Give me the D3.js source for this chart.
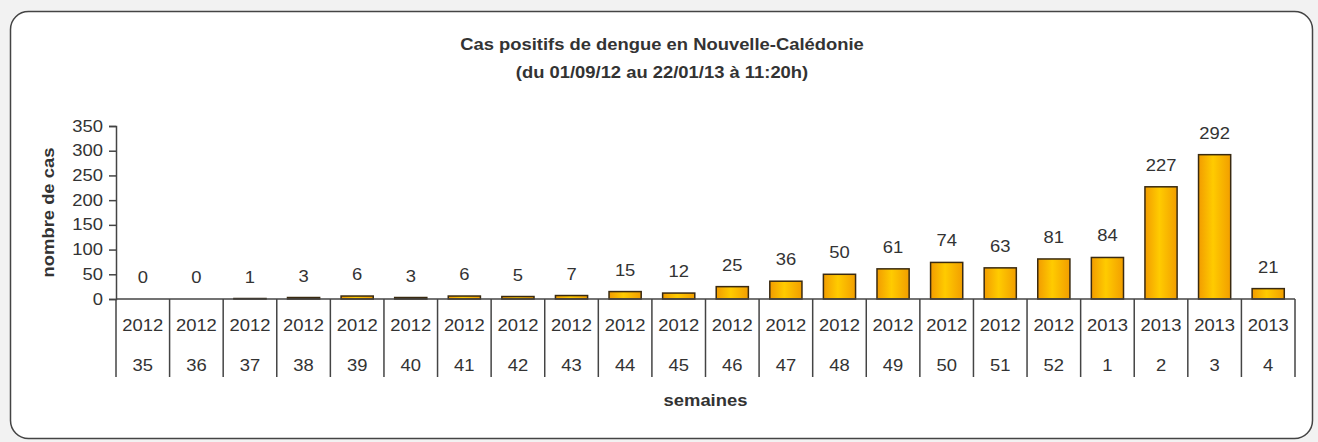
<!DOCTYPE html>
<html>
<head>
<meta charset="utf-8">
<script src="https://cdn.jsdelivr.net/npm/d3@7"></script>
<style>
  body { margin: 0; background: #f2f2f2; }
  svg text { font-family: Arial, "Liberation Sans", sans-serif; fill: #333; }
</style>
</head>
<body>
<svg width="1318" height="442"></svg>
<script>
var years = ["2012","2012","2012","2012","2012","2012","2012","2012","2012","2012","2012",
             "2012","2012","2012","2012","2012","2012","2012","2013","2013","2013","2013"];
var weeks = ["35","36","37","38","39","40","41","42","43","44","45",
             "46","47","48","49","50","51","52","1","2","3","4"];
var cases = [0, 0, 1, 3, 6, 3, 6, 5, 7, 15, 12, 25, 36, 50, 61, 74, 63, 81, 84, 227, 292, 21];
var yTicks = [0, 50, 100, 150, 200, 250, 300, 350];

var svg = d3.select("svg"),
    margin = {left: 116, right: 23, top: 126, bottom: 143},
    width = 1318 - margin.left - margin.right,
    height = 442 - margin.top - margin.bottom,
    sx = 1.15; // le texte de l'original est un peu étiré en largeur

// étire un texte horizontalement autour de son point d'ancrage
function stretch(sel) {
    sel.each(function() {
        var t = d3.select(this),
            tx = +t.attr("x") || 0,
            ty = +t.attr("y") || 0;
        t.attr("x", 0).attr("y", 0)
         .attr("transform", "translate(" + tx + "," + ty + ") scale(" + sx + ",1)");
    });
}

// cadre arrondi
svg.append("rect")
    .attr("x", 10.5).attr("y", 11.5)
    .attr("width", 1302).attr("height", 427)
    .attr("rx", 18).attr("ry", 18)
    .attr("fill", "#fff")
    .attr("stroke", "#444").attr("stroke-width", 1.5);

var defs = svg.append("defs");
var grad = defs.append("linearGradient").attr("id", "barGrad")
    .attr("x1", "0").attr("x2", "1").attr("y1", "0").attr("y2", "0");
grad.append("stop").attr("offset", "0%").attr("stop-color", "#f29c00");
grad.append("stop").attr("offset", "45%").attr("stop-color", "#ffcb00");
grad.append("stop").attr("offset", "100%").attr("stop-color", "#f29e00");

// titre
svg.append("text")
    .attr("x", 662).attr("y", 50)
    .attr("text-anchor", "middle")
    .style("font-size", "16px").style("font-weight", "bold")
    .text("Cas positifs de dengue en Nouvelle-Calédonie")
    .call(stretch);
svg.append("text")
    .attr("x", 662).attr("y", 78)
    .attr("text-anchor", "middle")
    .style("font-size", "16px").style("font-weight", "bold")
    .text("(du 01/09/12 au 22/01/13 à 11:20h)")
    .call(stretch);

var g = svg.append("g").attr("transform", "translate(" + margin.left + "," + margin.top + ")");

var x = d3.scaleBand()
    .domain(d3.range(cases.length))
    .range([0, width])
    .paddingInner(0.4).paddingOuter(0.2);

var xCat = d3.scaleLinear().domain([0, cases.length]).range([0, width]);

var y = d3.scaleLinear().domain([0, 350]).range([height, 0]);

// axe y
var yAxis = g.append("g")
    .call(d3.axisLeft(y).tickValues(yTicks).tickSize(7).tickPadding(6));
yAxis.select(".domain").attr("stroke", "#444").attr("stroke-width", 1.5);
yAxis.selectAll(".tick line").attr("stroke", "#444").attr("stroke-width", 1.5);
yAxis.selectAll("text").style("font-size", "16px").attr("fill", "#333").call(stretch);

// barres
g.selectAll(".bar")
    .data(cases)
    .enter().append("rect")
    .attr("class", "bar")
    .attr("x", function(d, i) { return x(i); })
    .attr("width", x.bandwidth())
    .attr("y", function(d) { return y(d); })
    .attr("height", function(d) { return height - y(d); })
    .attr("fill", "url(#barGrad)")
    .attr("stroke", "#3a2a10").attr("stroke-width", 1.5);

// étiquettes de valeurs
g.selectAll(".val")
    .data(cases)
    .enter().append("text")
    .attr("class", "val")
    .attr("x", function(d, i) { return x(i) + x.bandwidth() / 2; })
    .attr("y", function(d) { return y(d) - 16; })
    .attr("text-anchor", "middle")
    .style("font-size", "16px")
    .text(function(d) { return d; })
    .call(stretch);

// axe x (catégories sur deux niveaux)
g.append("line")
    .attr("x1", 0).attr("x2", width)
    .attr("y1", height).attr("y2", height)
    .attr("stroke", "#444").attr("stroke-width", 1.5);

g.selectAll(".sep")
    .data(d3.range(cases.length + 1))
    .enter().append("line")
    .attr("class", "sep")
    .attr("x1", function(d) { return xCat(d); })
    .attr("x2", function(d) { return xCat(d); })
    .attr("y1", height).attr("y2", height + 78)
    .attr("stroke", "#444").attr("stroke-width", 1.5);

g.selectAll(".year")
    .data(years)
    .enter().append("text")
    .attr("class", "year")
    .attr("x", function(d, i) { return xCat(i + 0.5); })
    .attr("y", height + 32)
    .attr("text-anchor", "middle")
    .style("font-size", "16px")
    .text(function(d) { return d; })
    .call(stretch);

g.selectAll(".week")
    .data(weeks)
    .enter().append("text")
    .attr("class", "week")
    .attr("x", function(d, i) { return xCat(i + 0.5); })
    .attr("y", height + 72)
    .attr("text-anchor", "middle")
    .style("font-size", "16px")
    .text(function(d) { return d; })
    .call(stretch);

// titres des axes
g.append("text")
    .attr("x", width / 2).attr("y", height + 107)
    .attr("text-anchor", "middle")
    .style("font-size", "16px").style("font-weight", "bold")
    .text("semaines")
    .call(stretch);

g.append("text")
    .attr("transform", "translate(-62," + (height / 2) + ") rotate(-90) scale(" + sx + ",1)")
    .attr("text-anchor", "middle")
    .style("font-size", "16px").style("font-weight", "bold")
    .text("nombre de cas");
</script>
</body>
</html>
